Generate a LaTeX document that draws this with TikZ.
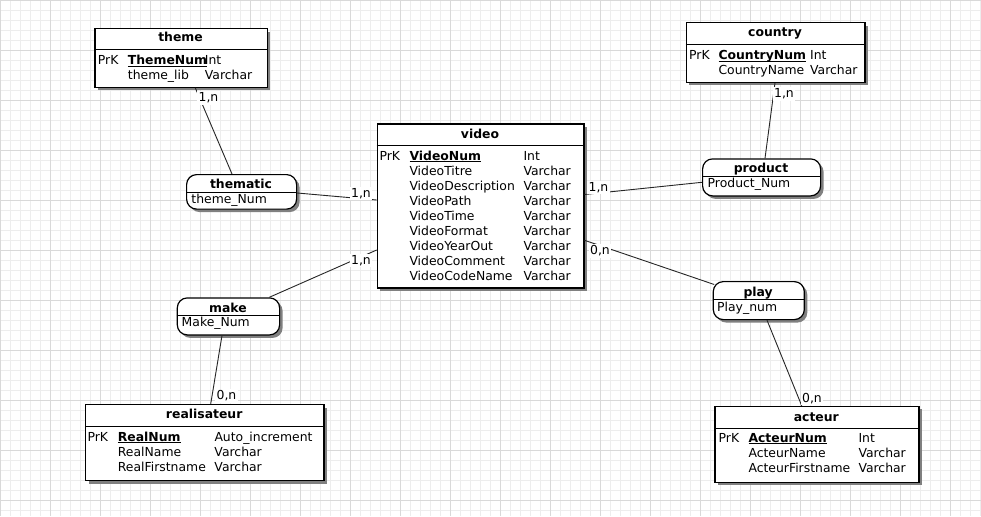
\documentclass[tikz,border=0pt]{standalone}
\usepackage{fontspec}
\setmainfont{DejaVu Sans}
\usetikzlibrary{shadows,calc}
\newcommand\pkey[1]{\leavevmode\setbox0\hbox{\textbf{#1}}\rlap{\rule[-2.2pt]{\wd0}{1.1pt}}\box0}
\newcommand\erows[3]{\begin{tabular}{@{}p{#1pt}@{}p{#2pt}@{}l@{}}#3\end{tabular}}
\tikzset{
  fnt/.style={font=\fontsize{12.4}{15}\selectfont},
  entity/.style={draw=black, line width=1.2pt, fill=white, inner sep=0pt, anchor=north west,
    drop shadow={shadow xshift=3pt, shadow yshift=-3pt, fill=black!50, opacity=1}},
  assoc/.style={entity, rounded corners=10pt},
  ttl/.style={font=\fontsize{12.4}{15}\selectfont\bfseries, inner sep=0pt, anchor=base},
  attrs/.style={fnt, inner sep=0pt, anchor=north west},
  aattr/.style={fnt, inner sep=0pt, anchor=base west},
  sepl/.style={draw=black, line width=1pt},
  link/.style={draw=black!85, line width=0.9pt},
  card/.style={fnt, fill=white, inner sep=1.5pt},
  gmin/.style={draw=black!7, line width=0.5pt},
  gmaj/.style={draw=black!15, line width=0.5pt}
}
\begin{document}
\begin{tikzpicture}[x=1pt,y=-1pt]
\useasboundingbox (0,0) rectangle (981,516);
\fill[white] (0,0) rectangle (981,516);
\foreach \x in {0,10,...,980} \draw[gmin] (\x,0) -- (\x,516);
\foreach \y in {0,10,...,510} \draw[gmin] (0,\y) -- (981,\y);
\foreach \x in {0,50,...,950} \draw[gmaj] (\x,0) -- (\x,516);
\foreach \y in {0,50,...,500} \draw[gmaj] (0,\y) -- (981,\y);

% entities
\node[entity, minimum width=172.4pt, minimum height=58.4pt] (theme) at (94.3,28.3) {};
\draw[sepl] ($(theme.north west)+(0,21)$) -- ($(theme.north east)+(0,21)$);
\node[ttl] (themeT) at (180.5,41.8) {theme};
\node[attrs] (themeA) at (97.7,53.8) {\erows{30}{77}{PrK & \pkey{ThemeNum} & Int\\ & theme\_lib & Varchar}};

\node[entity, minimum width=178.6pt, minimum height=59.4pt] (country) at (685.7,22.3) {};
\draw[sepl] ($(country.north west)+(0,22)$) -- ($(country.north east)+(0,22)$);
\node[ttl] (countryT) at (775,36.8) {country};
\node[attrs] (countryA) at (689,48.8) {\erows{29.3}{91.7}{PrK & \pkey{CountryNum} & Int\\ & CountryName & Varchar}};

\node[entity, minimum width=206.6pt, minimum height=164pt] (video) at (376.7,123.3) {};
\draw[sepl] ($(video.north west)+(0,21.7)$) -- ($(video.north east)+(0,21.7)$);
\node[ttl] (videoT) at (480,138.5) {video};
\node[attrs] (videoA) at (379.3,149.5) {\erows{30}{114}{PrK & \pkey{VideoNum} & Int\\
 & VideoTitre & Varchar\\
 & VideoDescription & Varchar\\
 & VideoPath & Varchar\\
 & VideoTime & Varchar\\
 & VideoFormat & Varchar\\
 & VideoYearOut & Varchar\\
 & VideoComment & Varchar\\
 & VideoCodeName & Varchar}};

\node[entity, minimum width=238.3pt, minimum height=76pt] (realisateur) at (85,404) {};
\draw[sepl] ($(realisateur.north west)+(0,22)$) -- ($(realisateur.north east)+(0,22)$);
\node[ttl] (realT) at (204.2,418.8) {realisateur};
\node[attrs] (realA) at (87.3,430.5) {\erows{30.4}{96.6}{PrK & \pkey{RealNum} & Auto\_increment\\
 & RealName & Varchar\\
 & RealFirstname & Varchar}};

\node[entity, minimum width=204pt, minimum height=76pt] (acteur) at (714.3,405.7) {};
\draw[sepl] ($(acteur.north west)+(0,22.6)$) -- ($(acteur.north east)+(0,22.6)$);
\node[ttl] (acteurT) at (816.3,421.2) {acteur};
\node[attrs] (acteurA) at (718.5,431.5) {\erows{29.8}{110}{PrK & \pkey{ActeurNum} & Int\\
 & ActeurName & Varchar\\
 & ActeurFirstname & Varchar}};

% associations
\node[assoc, minimum width=110pt, minimum height=34.5pt] (thematic) at (186,174) {};
\draw[sepl] ($(thematic.north west)+(0,18.3)$) -- ($(thematic.north east)+(0,18.3)$);
\node[ttl] (thematicT) at (241,188.5) {thematic};
\node[aattr] (thematicA) at (191.2,203.6) {theme\_Num};

\node[assoc, minimum width=118pt, minimum height=37pt] (product) at (702,158.3) {};
\draw[sepl] ($(product.north west)+(0,17.7)$) -- ($(product.north east)+(0,17.7)$);
\node[ttl] (productT) at (761,172.5) {product};
\node[aattr] (productA) at (707.5,187.6) {Product\_Num};

\node[assoc, minimum width=102.3pt, minimum height=37pt] (make) at (176.7,297.3) {};
\draw[sepl] ($(make.north west)+(0,18)$) -- ($(make.north east)+(0,18)$);
\node[ttl] (makeT) at (228,312.2) {make};
\node[aattr] (makeA) at (181.5,326.6) {Make\_Num};

\node[assoc, minimum width=91pt, minimum height=38pt] (play) at (712.7,281) {};
\draw[sepl] ($(play.north west)+(0,18)$) -- ($(play.north east)+(0,18)$);
\node[ttl] (playT) at (758.2,296.2) {play};
\node[aattr] (playA) at (717,311) {Play\_num};

% connectors
\draw[link] ($(theme.south west)+(101,0)$) -- ($(thematic.north west)+(46,0)$);
\draw[link] ($(country.south west)+(89.3,0)$) -- ($(product.north west)+(63,0)$);
\draw[link] ($(thematic.north east)+(0,19)$) -- ($(video.north west)+(0,76.7)$);
\draw[link] ($(video.north east)+(0,71.2)$) -- ($(product.north west)+(0,24)$);
\draw[link] ($(video.north west)+(0,126.7)$) -- ($(make.north west)+(92.6,0)$);
\draw[link] ($(video.north east)+(0,117)$) -- ($(play.north west)+(1.5,3.5)$);
\draw[link] ($(make.south west)+(45.3,0)$) -- ($(realisateur.north west)+(125.7,0)$);
\draw[link] ($(play.south west)+(54.3,0)$) -- ($(acteur.north west)+(87.4,0)$);

% cardinalities
\node[card] (k1) at (208.5,98) {1,n};
\node[card] (k2) at (784,94) {1,n};
\node[card] (k3) at (361,193.5) {1,n};
\node[card] (k4) at (598.5,187.3) {1,n};
\node[card] (k5) at (361,260.7) {1,n};
\node[card] (k6) at (600,251) {0,n};
\node[card] (k7) at (226.5,395.7) {0,n};
\node[card] (k8) at (812,398.3) {0,n};
\end{tikzpicture}
\end{document}
